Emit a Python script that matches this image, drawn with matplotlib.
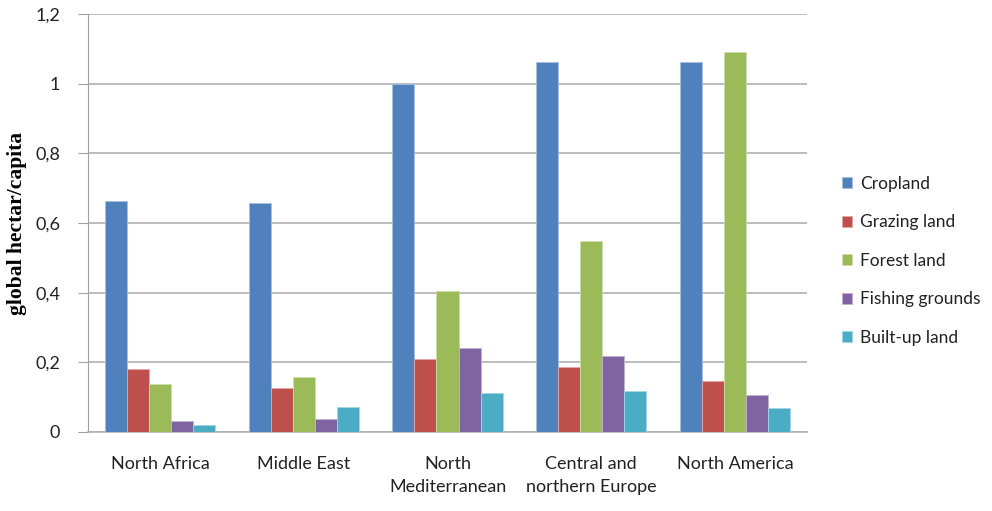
import matplotlib
matplotlib.use("Agg")
import matplotlib.pyplot as plt
import numpy as np

categories = ["North Africa", "Middle East", "North\nMediterranean",
              "Central and\nnorthern Europe", "North America"]
series_names = ["Cropland", "Grazing land", "Forest land", "Fishing grounds", "Built-up land"]
cropland = [0.662, 0.657, 1.000, 1.062, 1.062]
grazing = [0.181, 0.125, 0.210, 0.188, 0.146]
forest = [0.138, 0.159, 0.405, 0.549, 1.092]
fishing = [0.033, 0.037, 0.241, 0.217, 0.106]
builtup = [0.021, 0.071, 0.112, 0.119, 0.068]
yticks = [0, 0.2, 0.4, 0.6, 0.8, 1.0, 1.2]
ytick_labels = ["0", "0,2", "0,4", "0,6", "0,8", "1", "1,2"]

colors = ["#4F81BD", "#C0504D", "#9BBB59", "#8064A2", "#4BACC6"]
edges = ["#A7C0DE", "#E0A8A6", "#CDDDAC", "#BFB1D0", "#A5D5E2"]

plt.rcParams['font.family'] = ['Lato', 'DejaVu Sans']

fig = plt.figure(figsize=(9.92, 5.11), dpi=100)
ax = fig.add_axes([88/992, 1-432/511, (807-88)/992, (432-14)/511])

x = np.arange(len(categories))
w = 0.153
data = [cropland, grazing, forest, fishing, builtup]
for i, (vals, name) in enumerate(zip(data, series_names)):
    ax.bar(x + (i - 2) * w, vals, width=w, color=colors[i], edgecolor=edges[i],
           linewidth=0.6, label=name, zorder=3)

ax.set_xlim(-0.5, len(categories) - 0.5)
ax.set_ylim(0, 1.2)
ax.set_yticks(yticks)
ax.set_yticklabels(ytick_labels, fontsize=13, color="#222222")
ax.set_xticks(x)
ax.set_xticklabels(categories, fontsize=13, color="#222222", linespacing=1.55)
ax.tick_params(axis='x', length=0, pad=17)
ax.tick_params(axis='y', length=7, color="#A0A0A0", pad=13)

ax.grid(axis='y', color="#B0B0B0", linewidth=1.2, zorder=0)
for s in ["top", "right"]:
    ax.spines[s].set_visible(False)
ax.spines["left"].set_color("#A0A0A0")
ax.spines["bottom"].set_color("#B0B0B0")
ax.spines["bottom"].set_linewidth(1.2)

ax.set_ylabel("global hectar/capita", fontsize=15.5, fontweight="bold",
              family=["Liberation Serif", "DejaVu Serif"], labelpad=6)

leg = fig.legend(loc="upper left", bbox_to_anchor=(826/992, 1-160/511), frameon=False,
                 fontsize=12.5, handlelength=0.6, handleheight=0.6, handletextpad=0.45,
                 labelspacing=1.3)
for t in leg.get_texts():
    t.set_color("#222222")

fig.savefig("out.png", dpi=100)
